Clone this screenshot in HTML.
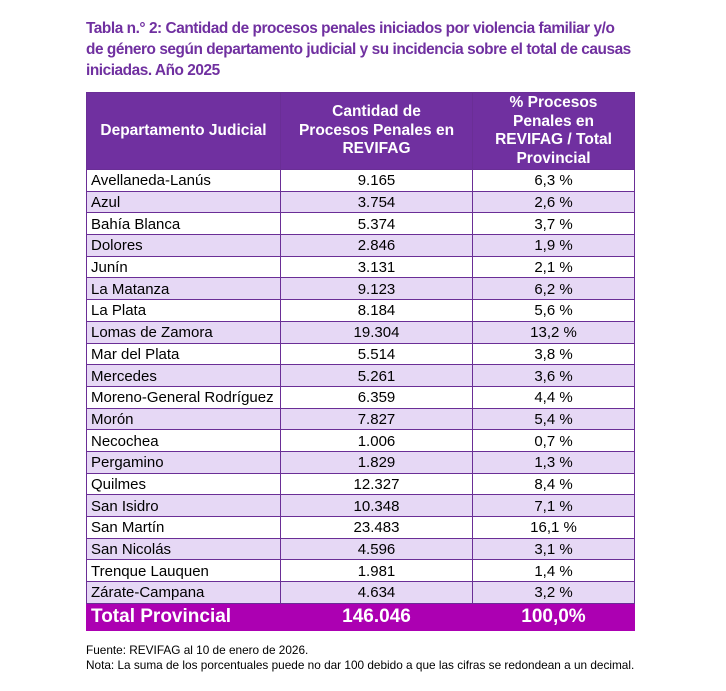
<!DOCTYPE html>
<html><head><meta charset="utf-8"><style>
body{margin:0;background:#fff;width:726px;height:691px;position:relative;font-family:"Liberation Sans",sans-serif;}
.t{position:absolute;left:86px;top:18px;width:548px;color:#7030a0;font-weight:bold;font-size:15.4px;letter-spacing:-0.45px;line-height:21px;}
table{position:absolute;left:86px;top:92px;border-collapse:collapse;width:549px;}
td,th{border:1px solid #6a2e96;padding:0;}
th{background:#7030a0;color:#fff;font-size:15.5px;line-height:18.5px;height:76px;font-weight:bold;}
td{height:19.7px;font-size:15px;line-height:19px;color:#000;padding-top:1px;}
td:first-child{padding-left:4px;}
td+td{text-align:center;}
tr.a td{background:#e6d8f5;}
tr.tot td{background:#ac00b2;color:#fff;font-weight:bold;font-size:19px;height:26px;padding-top:0;border-color:#ac00b2;}
.f{position:absolute;left:86px;font-size:11.8px;color:#000;}
</style></head><body>
<div class="t">Tabla n.° 2: Cantidad de procesos penales iniciados por violencia familiar y/o de género según departamento judicial y su incidencia sobre el total de causas iniciadas. Año 2025</div>
<table>
<tr><th style="width:193px">Departamento Judicial</th><th style="width:191px">Cantidad de<br>Procesos Penales en<br>REVIFAG</th><th>% Procesos<br>Penales en<br>REVIFAG / Total<br>Provincial</th></tr>
<tr><td>Avellaneda-Lanús</td><td>9.165</td><td>6,3 %</td></tr>
<tr class="a"><td>Azul</td><td>3.754</td><td>2,6 %</td></tr>
<tr><td>Bahía Blanca</td><td>5.374</td><td>3,7 %</td></tr>
<tr class="a"><td>Dolores</td><td>2.846</td><td>1,9 %</td></tr>
<tr><td>Junín</td><td>3.131</td><td>2,1 %</td></tr>
<tr class="a"><td>La Matanza</td><td>9.123</td><td>6,2 %</td></tr>
<tr><td>La Plata</td><td>8.184</td><td>5,6 %</td></tr>
<tr class="a"><td>Lomas de Zamora</td><td>19.304</td><td>13,2 %</td></tr>
<tr><td>Mar del Plata</td><td>5.514</td><td>3,8 %</td></tr>
<tr class="a"><td>Mercedes</td><td>5.261</td><td>3,6 %</td></tr>
<tr><td>Moreno-General Rodríguez</td><td>6.359</td><td>4,4 %</td></tr>
<tr class="a"><td>Morón</td><td>7.827</td><td>5,4 %</td></tr>
<tr><td>Necochea</td><td>1.006</td><td>0,7 %</td></tr>
<tr class="a"><td>Pergamino</td><td>1.829</td><td>1,3 %</td></tr>
<tr><td>Quilmes</td><td>12.327</td><td>8,4 %</td></tr>
<tr class="a"><td>San Isidro</td><td>10.348</td><td>7,1 %</td></tr>
<tr><td>San Martín</td><td>23.483</td><td>16,1 %</td></tr>
<tr class="a"><td>San Nicolás</td><td>4.596</td><td>3,1 %</td></tr>
<tr><td>Trenque Lauquen</td><td>1.981</td><td>1,4 %</td></tr>
<tr class="a"><td>Zárate-Campana</td><td>4.634</td><td>3,2 %</td></tr>
<tr class="tot"><td>Total Provincial</td><td>146.046</td><td>100,0%</td></tr>
</table>
<div class="f" style="top:643px">Fuente: REVIFAG al 10 de enero de 2026.</div>
<div class="f" style="top:658px">Nota: La suma de los porcentuales puede no dar 100 debido a que las cifras se redondean a un decimal.</div>
</body></html>
